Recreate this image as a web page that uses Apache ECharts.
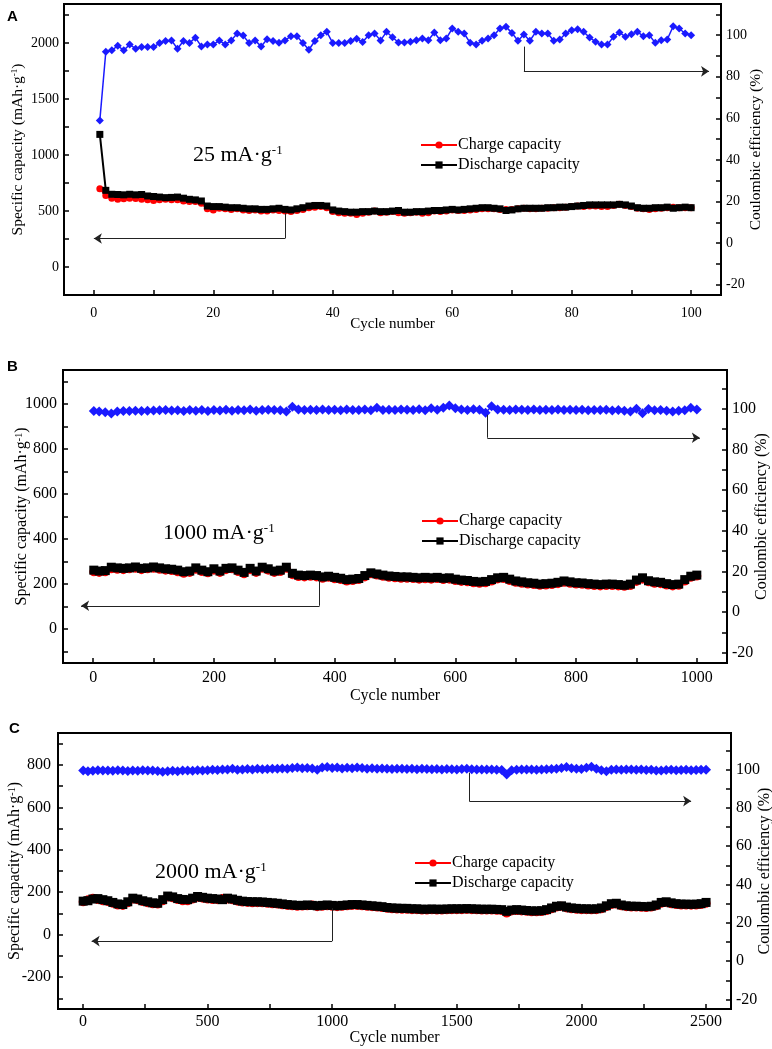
<!DOCTYPE html>
<html><head><meta charset="utf-8">
<script src="https://cdn.jsdelivr.net/npm/echarts@6/dist/echarts.min.js"></script>
<style>html,body{margin:0;padding:0;background:#fff}#c{width:772px;height:1049px}</style>
</head><body><div id="c"></div>
<script>
// ---------- DATA ----------
const cyclesA = Array.from({length:100}, (_, i) => i + 1);
const chargeA = [700,640,615,605,610,615,612,605,600,595,600,605,600,602,590,585,585,570,520,510,
  525,520,515,520,510,505,510,500,500,510,505,500,495,505,515,530,535,540,530,495,
  485,480,480,470,480,490,500,485,490,495,485,480,485,490,480,485,500,495,500,510,
  505,505,510,515,520,520,520,515,515,515,520,525,520,520,525,525,530,530,535,540,
  545,540,545,545,540,540,550,560,550,540,525,520,515,520,525,530,535,530,530,530];
const dischargeA = [1185,685,650,648,645,650,645,648,635,630,625,620,622,625,615,605,600,590,545,540,
  540,535,530,530,525,520,520,515,515,520,525,515,510,520,530,545,550,550,545,510,
  500,495,490,490,495,495,500,495,495,500,505,490,490,495,495,500,505,505,510,515,
  510,515,520,525,530,530,525,520,505,510,520,525,525,525,525,530,530,535,535,540,
  545,550,555,555,555,555,555,560,555,545,530,525,525,530,530,535,525,530,535,530];
const ceA = [59,92,92.7,94.9,92.7,95.5,93.5,94.3,94.3,94.3,96.2,97.2,97.5,93.5,97.2,96.2,98.8,94.6,95.5,95.5,
  97.5,95.5,97.5,100.8,99.8,96.2,97.5,94.6,98,97.2,96.4,97.5,99.5,99.5,96.2,93,97.2,100,101.6,96.2,
  96.2,96.2,97.2,98.3,96.7,100,100.8,97.5,101.6,99,96.5,96.5,96.8,97.6,98.4,97.6,101.3,97.6,98.4,103.2,
  101.6,100.8,96.3,95.5,97.3,98.4,100,103.2,104,101.1,97.3,100.3,97.3,101.6,100.8,100.8,97.3,97.9,100.8,102.4,
  102.9,101.6,98.9,96.8,95.5,95.5,99.2,101.3,99.2,100.5,101.6,99.5,100,96.3,97.6,97.9,104.3,103.2,100.8,100];

const cyclesB = Array.from({length:101}, (_, i) => i === 0 ? 1 : i * 10);
const chargeB = [255,252,255,268,266,264,268,270,264,268,270,
  266,262,260,255,248,252,266,256,250,262,
  252,264,268,256,246,264,252,270,262,252,
  256,270,242,234,232,235,232,226,230,224,
  220,214,216,220,232,246,240,235,230,228,
  226,226,225,222,224,222,225,220,222,216,
  212,210,206,204,206,214,223,225,216,208,
  204,200,198,195,196,198,202,208,204,200,
  199,196,194,192,194,194,192,190,194,212,
  222,210,204,202,196,192,195,214,230,236];
const dischargeB = [262,258,260,275,272,270,272,276,270,272,276,
  272,268,266,262,255,258,272,262,255,268,
  258,270,272,262,252,270,258,275,268,258,
  262,275,248,240,238,240,238,232,235,230,
  226,220,222,225,238,250,245,240,236,234,
  232,232,230,228,230,228,230,226,228,222,
  218,216,212,210,212,220,228,230,222,214,
  210,206,204,200,202,204,208,214,210,206,
  205,202,200,198,200,200,198,195,200,218,
  228,215,210,208,202,198,200,220,235,240];
const ceB = [98.8,98.6,98.2,97.6,98.6,98.8,98.9,99.0,98.8,99.0,99.1,
  99.2,99.3,99.1,99.2,98.8,99.3,99.0,99.4,98.9,99.3,
  99.1,99.5,99.0,99.4,99.2,99.6,99.0,99.3,99.5,99.4,
  99.2,98.6,100.9,99.6,99.3,99.5,99.4,99.6,99.3,99.5,
  99.2,99.6,99.4,99.3,99.6,99.2,100.5,99.4,99.5,99.3,
  99.6,99.5,99.4,99.7,99.2,100.2,99.5,100.4,101.5,100.2,
  99.6,99.4,99.7,99.5,98.0,101.2,99.6,99.5,99.4,99.6,
  99.5,99.3,99.6,99.4,99.5,99.3,99.6,99.4,99.5,99.3,
  99.5,99.2,99.4,99.3,99.5,99.1,99.3,99.0,98.6,100.0,
  97.8,99.8,99.2,99.4,99.0,98.6,99.0,99.2,100.4,99.6];

const cyclesC = Array.from({length:126}, (_, i) => i === 0 ? 1 : i * 20);
const chargeC = [155,164,172,166,160,156,148,140,138,150,168,
  164,156,150,146,144,160,178,174,166,160,
  160,168,176,172,168,166,165,170,168,164,
  158,154,152,150,151,150,148,146,144,141,
  138,136,134,135,136,140,132,134,136,134,
  132,134,136,138,138,136,134,132,130,128,
  124,122,121,120,120,118,118,116,116,117,
  116,116,117,118,118,118,119,118,117,116,
  116,116,115,114,102,112,114,112,110,108,
  108,109,114,122,130,134,126,122,120,118,
  118,117,118,122,132,142,144,136,132,130,
  130,129,128,130,136,148,152,146,142,140,
  140,139,140,142,148];
const dischargeC = [158,160,168,170,165,160,152,145,142,155,172,
  168,160,155,150,148,165,182,178,170,166,
  165,172,180,176,172,170,168,165,172,168,
  162,158,156,155,155,154,152,150,148,145,
  142,140,138,138,140,138,136,138,140,138,
  136,138,140,142,142,140,138,136,134,132,
  128,126,125,124,124,122,122,120,120,121,
  120,120,121,122,122,122,123,122,121,120,
  120,120,119,118,110,116,118,116,114,112,
  112,113,118,126,134,136,130,126,124,122,
  122,121,122,126,136,146,148,140,136,134,
  134,133,132,134,140,152,155,150,146,144,
  144,143,144,146,152];
const ceC = [99.5,99.0,99.3,99.6,99.4,99.5,99.3,99.6,99.4,99.2,99.5,
  99.3,99.6,99.4,99.5,99.2,98.8,99.0,99.3,99.1,99.4,
  99.5,99.3,99.6,99.4,99.6,99.8,99.7,99.9,100.0,100.4,
  99.8,100.0,100.2,100.0,100.3,100.1,100.2,100.4,100.3,100.5,
  100.4,100.7,101.0,100.6,100.8,100.5,99.8,101.0,101.2,100.7,
  101.0,100.5,100.9,100.6,101.0,100.8,100.4,100.6,100.3,100.5,
  100.4,100.2,100.4,100.3,100.2,100.3,100.1,100.3,100.2,100.1,
  100.2,100.0,100.2,100.1,100.0,100.2,100.4,100.1,100.0,99.9,
  100.0,99.9,99.8,99.7,97.4,99.6,99.8,99.9,100.0,99.9,
  99.8,100.0,100.1,100.2,100.4,100.8,101.3,100.6,100.3,100.2,
  100.9,101.4,100.4,99.6,99.0,99.8,100.0,99.8,99.9,100.0,
  99.8,99.9,99.7,99.8,99.5,99.4,99.7,99.8,99.6,99.7,
  99.8,99.6,99.7,99.8,99.8];

// tick values / labels
const ticksLeftA = [0,250,500,750,1000,1250,1500,1750,2000,2250];
const labelsLeftA = [0,500,1000,1500,2000];
const ticksXA = [0,10,20,30,40,50,60,70,80,90,100];
const labelsXA = [0,20,40,60,80,100];
const ticksLeftB = [-100,0,100,200,300,400,500,600,700,800,900,1000,1100];
const labelsLeftB = [0,200,400,600,800,1000];
const ticksXB = [0,100,200,300,400,500,600,700,800,900,1000];
const labelsXB = [0,200,400,600,800,1000];
const ticksLeftC = [-300,-200,-100,0,100,200,300,400,500,600,700,800,900];
const labelsLeftC = [-200,0,200,400,600,800];
const ticksXC = [0,250,500,750,1000,1250,1500,1750,2000,2250,2500];
const labelsXC = [0,500,1000,1500,2000,2500];
const ticksRight = [-20,-10,0,10,20,30,40,50,60,70,80,90,100,110];
const labelsRight = [-20,0,20,40,60,80,100];

// arrow guides (data coordinates): start on curve, corner, arrow tip
const arrowA_left = [[32,480],[32,255],[0,255]];
const arrowA_right = [[72,94.5],[72,82.6],[103,82.6]];
const arrowB_left = [[375,218],[375,104],[-20,104]];
const arrowB_right = [[653,97],[653,85.7],[1005,85.7]];
const arrowC_left = [[1000,125],[1000,-30],[35,-30]];
const arrowC_right = [[1550,98.3],[1550,83.5],[2440,83.5]];

// ---------- CHART ----------
const FONT = '"Liberation Serif","Times New Roman",serif';
const zip = (xs, ys) => xs.map((x, i) => [x, ys[i]]);
const plain = v => String(v);

function xAx(gi, min, max, ticks, labels, fs, nfs, gap, margin) {
  return {type:'value', gridIndex:gi, min, max, position:'bottom',
    name:'Cycle number', nameLocation:'middle', nameGap:gap, nameMoveOverlap:false,
    nameTextStyle:{fontFamily:FONT, fontSize:nfs, color:'#000'},
    axisLine:{show:true, onZero:false, lineStyle:{color:'#000', width:2}},
    axisTick:{show:true, inside:true, length:5, customValues:ticks, lineStyle:{color:'#000', width:1.5}},
    axisLabel:{customValues:labels, formatter:plain, fontFamily:FONT, fontSize:fs, color:'#000', margin},
    splitLine:{show:false}};
}
function yAx(gi, pos, min, max, ticks, labels, name, fs, nfs, gap, margin) {
  return {type:'value', gridIndex:gi, position:pos, min, max,
    name, nameLocation:'middle', nameGap:gap, nameMoveOverlap:false,
    nameTextStyle:{fontFamily:FONT, fontSize:nfs, color:'#000',
      rich:{sup:{fontFamily:FONT, fontSize:Math.round(nfs*0.6), color:'#000', verticalAlign:'top', lineHeight:nfs}}},
    axisLine:{show:true, onZero:false, lineStyle:{color:'#000', width:2}},
    axisTick:{show:true, inside:true, length:5, customValues:ticks, lineStyle:{color:'#000', width:1.5}},
    axisLabel:{customValues:labels, formatter:plain, fontFamily:FONT, fontSize:fs, color:'#000', margin},
    splitLine:{show:false}};
}
const capName = 'Specific capacity (mAh·g{sup|-1})';
const ceName = 'Coulombic efficiency (%)';

function guide(xi, yi, pts) {
  const base = {type:'lines', coordinateSystem:'cartesian2d', xAxisIndex:xi, yAxisIndex:yi,
    silent:true, z:5, symbolSize:8, lineStyle:{color:'#222', width:1, opacity:1, curveness:0}};
  return [
    Object.assign({}, base, {symbol:['none','none'], data:[{coords:[pts[0], pts[1]]}]}),
    Object.assign({}, base, {symbol:['none','arrow'], data:[{coords:[pts[1], pts[2]]}]})
  ];
}

function panelSeries(xi, yl, yr, cyc, ch, dis, ce, sz, csz, lw, aL, aR) {
  return [
    {name:'Coulombic efficiency', type:'line', xAxisIndex:xi, yAxisIndex:yr, data:zip(cyc, ce),
      symbol:'diamond', symbolSize:csz, showSymbol:true, itemStyle:{color:'#1a1aff'},
      lineStyle:{color:'#1a1aff', width:1.5}, z:2},
    {name:'Charge capacity', type:'line', xAxisIndex:xi, yAxisIndex:yl, data:zip(cyc, ch),
      symbol:'circle', symbolSize:sz, showSymbol:true, itemStyle:{color:'#ff0000'},
      lineStyle:{color:'#ff0000', width:lw}, z:3},
    {name:'Discharge capacity', type:'line', xAxisIndex:xi, yAxisIndex:yl, data:zip(cyc, dis),
      symbol:'rect', symbolSize:sz, showSymbol:true, itemStyle:{color:'#000000'},
      lineStyle:{color:'#000000', width:lw}, z:4}
  ].concat(guide(xi, yl, aL), guide(xi, yr, aR));
}

function leg(left, top) {
  return {data:['Charge capacity','Discharge capacity'], orient:'vertical', left, top,
    itemWidth:36, itemHeight:9, itemGap:4, selectedMode:false, padding:0,
    textStyle:{fontFamily:FONT, fontSize:16, color:'#000', padding:[0,0,0,-4]}};
}
function note(x, y, txt) {
  return {type:'text', x, y, silent:true, style:{text:txt, fontFamily:FONT, fontSize:22, fill:'#000',
    verticalAlign:'middle', rich:{sup:{fontFamily:FONT, fontSize:13, fill:'#000', verticalAlign:'top'}}}};
}
function letter(x, y, t) {
  return {type:'text', x, y, silent:true, style:{text:t, fontFamily:'"Liberation Sans",Arial,sans-serif',
    fontWeight:'bold', fontSize:15, fill:'#000', verticalAlign:'middle'}};
}

const gridBase = {show:true, borderColor:'#000', borderWidth:2, containLabel:false, outerBoundsMode:'none'};
const chart = echarts.init(document.getElementById('c'), null, {renderer:'canvas'});
chart.setOption({
  animation:false,
  backgroundColor:'#fff',
  grid:[
    Object.assign({left:64, right:51, top:4, height:291}, gridBase),
    Object.assign({left:63, right:45, top:370, height:293}, gridBase),
    Object.assign({left:58, right:41, top:733, height:276}, gridBase)
  ],
  xAxis:[
    xAx(0, -5, 105, ticksXA, labelsXA, 14, 15, 22, 11),
    xAx(1, -50, 1050, ticksXB, labelsXB, 16, 16, 25, 7),
    xAx(2, -100, 2600, ticksXC, labelsXC, 16, 16, 21, 5)
  ],
  yAxis:[
    yAx(0, 'left', -250, 2350, ticksLeftA, labelsLeftA, capName, 14, 15.5, 38, 5),
    yAx(0, 'right', -25, 115, ticksRight, labelsRight, ceName, 14, 15.5, 27, 5),
    yAx(1, 'left', -150, 1150, ticksLeftB, labelsLeftB, capName, 16, 16, 33, 6),
    yAx(1, 'right', -25, 119, ticksRight, labelsRight, ceName, 16, 16, 27, 5),
    yAx(2, 'left', -350, 950, ticksLeftC, labelsLeftC, capName, 16, 16, 35, 7),
    yAx(2, 'right', -25, 119, ticksRight, labelsRight, ceName, 16, 16, 26, 5)
  ],
  legend:[leg(420, 137), leg(421, 513), leg(414, 855)],
  series:[].concat(
    panelSeries(0, 0, 1, cyclesA, chargeA, dischargeA, ceA, 7, 8, 2, arrowA_left, arrowA_right),
    panelSeries(1, 2, 3, cyclesB, chargeB, dischargeB, ceB, 9, 10, 4, arrowB_left, arrowB_right),
    panelSeries(2, 4, 5, cyclesC, chargeC, dischargeC, ceC, 9, 10, 4, arrowC_left, arrowC_right)
  ),
  graphic:[
    letter(7, 17, 'A'), letter(7, 367, 'B'), letter(9, 729, 'C'),
    note(193, 155, '25 mA·g{sup|-1}'),
    note(163, 533, '1000 mA·g{sup|-1}'),
    note(155, 872, '2000 mA·g{sup|-1}')
  ]
});
</script></body></html>
